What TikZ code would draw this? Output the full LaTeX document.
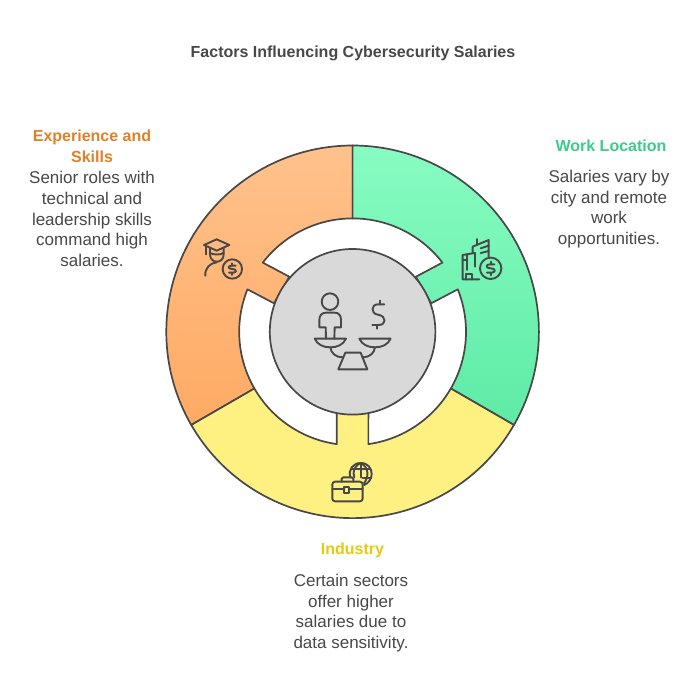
\documentclass[tikz,border=0pt]{standalone}
\usepackage{fontspec}
\setmainfont{Liberation Sans}
\definecolor{ink}{HTML}{484848}
\definecolor{orangeT}{HTML}{FFC28C}
\definecolor{orangeB}{HTML}{FFAA64}
\definecolor{greenT}{HTML}{88FCC2}
\definecolor{greenB}{HTML}{5EEBA6}
\definecolor{yellowF}{HTML}{FFF082}
\definecolor{greyF}{HTML}{D9D9D9}
\definecolor{headO}{HTML}{E08029}
\definecolor{headG}{HTML}{3CCB8B}
\definecolor{headY}{HTML}{E2CC12}
\tikzset{
  x=1pt,y=-1pt,
  seg/.style={draw=ink,line width=1.7pt,line join=round},
  icon/.style={draw=ink,line width=1.9pt,line cap=round,line join=round},
  body/.style={align=center,text=ink,inner sep=0pt,font=\fontsize{17}{20.6}\selectfont},
  head/.style={align=center,inner sep=0pt,font=\bfseries\fontsize{16}{20.6}\selectfont},
}
\def\cx{352.6}
\def\cy{331.8}
\def\Ro{186.3}
\def\Rm{113.4}
\def\Ri{82.8}
\newcommand{\polar}[2]{({\cx+#2*cos(#1)},{\cy-#2*sin(#1)})}
\begin{document}
\begin{tikzpicture}
\useasboundingbox (0,0) rectangle (700,695);
\fill[white] (0,0) rectangle (700,695);
% orange
\path[seg,top color=orangeT,bottom color=orangeB]
  \polar{90}{\Ro} arc[start angle=90,end angle=210,radius=\Ro pt]
  -- \polar{210}{\Rm} arc[start angle=210,end angle=158,radius=\Rm pt]
  -- (274,303.3) -- (289.3,276.7)
  -- \polar{142.4}{\Rm} arc[start angle=142.4,end angle=90,radius=\Rm pt] -- cycle;
% green
\path[seg,top color=greenT,bottom color=greenB]
  \polar{90}{\Ro} arc[start angle=90,end angle=-30,radius=\Ro pt]
  -- \polar{-30}{\Rm} arc[start angle=-30,end angle=22,radius=\Rm pt]
  -- (431.2,303.3) -- (415.9,276.7)
  -- \polar{37.6}{\Rm} arc[start angle=37.6,end angle=90,radius=\Rm pt] -- cycle;
% yellow
\path[seg,fill=yellowF]
  \polar{210}{\Ro} arc[start angle=210,end angle=330,radius=\Ro pt]
  -- \polar{330}{\Rm} arc[start angle=330,end angle=278,radius=\Rm pt]
  -- (368.4,400) -- (336.8,400)
  -- \polar{262}{\Rm} arc[start angle=262,end angle=210,radius=\Rm pt] -- cycle;
% centre
\path[seg,fill=greyF] (\cx,\cy) circle[radius=\Ri pt];
% scale icon
\begin{scope}[shift={(260,240)},x=0.3333pt,y=-0.3333pt]
  \draw[icon] (210,185) circle[radius=8.3pt];
  \draw[icon] (198,296) -- (197,262) -- (178,262) -- (178,240) .. controls (178,226) and (186,218) .. (198,218)
     -- (224,218) .. controls (236,218) and (243,226) .. (243,240) -- (243,262) -- (224,262) -- (223,296);
  \draw[icon] (164,296) -- (258,296) .. controls (250,314) and (232,322) .. (211,322) .. controls (190,322) and (172,314) .. (164,296);
  \draw[icon] (298,296) -- (392,296) .. controls (384,314) and (366,322) .. (345,322) .. controls (324,322) and (306,314) .. (298,296);
  \draw[icon] (211,322) .. controls (213,340) and (228,352) .. (248,352);
  \draw[icon] (345,322) .. controls (343,340) and (328,352) .. (308,352);
  \draw[icon] (235,388) -- (322,388) -- (302,338) -- (256,338) -- cycle;
  \draw[icon] (373,193) -- (354,193) .. controls (332,193) and (332,222) .. (354,224) .. controls (380,228) and (380,255) .. (356,255) -- (337,255);
  \draw[icon] (361,182) -- (361,193) (350,255) -- (350,266);
\end{scope}
% graduate icon
\begin{scope}[shift={(190,225)},x=0.3333pt,y=-0.3333pt]
  \draw[icon] (80,43) -- (118,60) -- (80,77) -- (42,60) -- cycle;
  \draw[icon] (48,62) -- (48,88);
  \draw[icon] (60,68) -- (60,88) .. controls (60,102) and (70,110) .. (80,110) .. controls (92,110) and (101,102) .. (101,88) -- (101,68);
  \draw[icon] (60,84) .. controls (72,90) and (90,90) .. (101,84);
  \draw[icon] (46,152) .. controls (44,130) and (60,114) .. (80,112);
  \draw[icon] (127,132) circle[radius=9.7pt];
  \draw[icon] (137,122) -- (125,122) .. controls (113,122) and (113,132) .. (127,132) .. controls (141,132) and (141,143) .. (129,143) -- (117,143);
  \draw[icon] (127,115) -- (127,122) (127,143) -- (127,150);
\end{scope}
% building icon
\begin{scope}[shift={(450,225)},x=0.3333pt,y=-0.3333pt]
  \draw[icon] (88,163) -- (38,163) -- (38,90) -- (75,84) -- (75,125);
  \draw[icon] (50,88) -- (50,135);
  \draw[icon] (38,105) -- (50,105);
  \draw[icon] (48,163) -- (48,148) -- (66,148) -- (66,163);
  \draw[icon] (68,84) -- (68,65) -- (116,45) -- (116,96);
  \draw[icon] (80,42) -- (80,60);
  \draw[icon] (92,70) -- (116,62) (92,84) -- (116,78);
  \draw[icon] (122,130) circle[radius=10.7pt];
  \draw[icon] (133,118) -- (120,118) .. controls (106,118) and (106,130) .. (122,130) .. controls (138,130) and (138,143) .. (124,143) -- (111,143);
  \draw[icon] (122,110) -- (122,118) (122,143) -- (122,151);
\end{scope}
% briefcase icon
\begin{scope}[shift={(320,450)},x=0.3333pt,y=-0.3333pt]
  \draw[icon,rounded corners=2.7pt] (37,95) rectangle (128,154);
  \draw[icon,rounded corners=1.5pt] (65,95) -- (65,82) -- (100,82) -- (100,95);
  \draw[icon] (37,118) -- (73,118) (87,118) -- (128,118);
  \draw[icon] (73,110) rectangle (87,128);
  \draw[icon] (91,82) .. controls (84,58) and (100,39) .. (122,39) .. controls (144,39) and (155,55) .. (155,72) .. controls (155,88) and (145,100) .. (132,105);
  \draw[icon] (122,39) -- (122,82);
  \draw[icon] (122,39) .. controls (100,50) and (98,66) .. (103,82);
  \draw[icon] (122,39) .. controls (146,52) and (148,78) .. (132,100);
  \draw[icon] (94,58) -- (150,58) (128,85) -- (153,85);
\end{scope}
% texts
\node[font=\bfseries\fontsize{16}{20}\selectfont,text=ink,inner sep=0pt] (title) at (353,53.5) {Factors Influencing Cybersecurity Salaries};
\node[head,text=headO] (h1) at (92,146) {Experience and\\Skills};
\node[body] (b1) at (92,219) {Senior roles with\\technical and\\leadership skills\\command high\\salaries.};
\node[head,text=headG] (h2) at (611,146) {Work Location};
\node[body] (b2) at (609,209) {Salaries vary by\\city and remote\\work\\opportunities.};
\node[head,text=headY] (h3) at (352.5,550) {Industry};
\node[body] (b3) at (351,613) {Certain sectors\\offer higher\\salaries due to\\data sensitivity.};
\end{tikzpicture}
\end{document}
